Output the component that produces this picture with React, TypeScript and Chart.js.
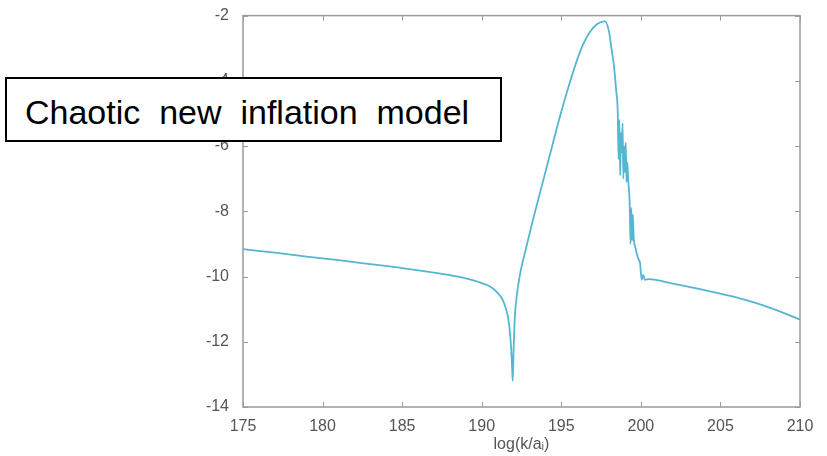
import React, { useEffect, useRef } from "react";
import { Chart, registerables } from "chart.js";

Chart.register(...registerables);

// log(k/a_i) values
const xValues: number[] = [
  175, 177, 179, 181, 183, 185, 187, 188, 189, 190, 190.5, 191.0, 191.3, 191.5, 191.65, 191.75, 191.85, 191.92, 191.95,
  192.0, 192.05, 192.1, 192.2, 192.4, 192.8, 193.2, 193.6, 194.0, 194.4, 194.8, 195.2, 195.6, 196.0, 196.4, 196.8, 197.2,
  197.5, 197.75, 198.0, 198.15, 198.3, 198.45, 198.55, 198.6, 198.65, 198.7, 198.75, 198.8, 198.85, 198.9, 198.95, 199.0,
  199.05, 199.1, 199.15, 199.2, 199.3, 199.35, 199.4, 199.45, 199.5, 199.55, 199.65, 199.8, 199.95, 200.05, 200.15, 200.25,
  200.5, 202, 204, 206, 207, 208, 209, 210,
];
// spectrum values
const yValues: number[] = [
  -9.16, -9.27, -9.39, -9.5, -9.62, -9.74, -9.88, -9.96, -10.06, -10.2, -10.3, -10.5, -10.7, -10.95, -11.24, -11.6, -12.2, -12.9, -13.2,
  -12.3, -11.6, -11.1, -10.6, -9.95, -9.1, -8.3, -7.55, -6.8, -6.05, -5.3, -4.6, -3.95, -3.35, -2.85, -2.5, -2.28,
  -2.2, -2.18, -2.5, -3.0, -3.5, -4.3, -5.0, -6.4, -5.2, -6.9, -5.6, -6.2, -5.3, -7.0, -6.0, -6.8,
  -5.9, -7.1, -6.5, -7.0, -7.8, -9.0, -7.9, -8.9, -8.1, -8.8, -9.1, -9.4, -9.6, -10.1, -9.95, -10.1,
  -10.08, -10.22, -10.42, -10.64, -10.78, -10.94, -11.12, -11.32,
];

const xTicks = { min: 175, max: 210, step: 5 };
const yTicks = { min: -14, max: -2, step: 2 };
const xTitle = "log(k/aᵢ)";
const boxText = "Chaotic  new  inflation  model";

const tickFont = "'Liberation Sans', Arial, sans-serif";

const framePlugin = {
  id: "matlabFrame",
  afterDraw(chart: any) {
    const { ctx, chartArea, scales } = chart;
    const { left, right, top, bottom } = chartArea;
    ctx.save();
    ctx.strokeStyle = "#9a9a9a";
    ctx.lineWidth = 1.5;
    ctx.strokeRect(left, top, right - left, bottom - top);
    ctx.lineWidth = 1;
    const tl = 5;
    scales.x.ticks.forEach((t: any) => {
      const px = Math.round(scales.x.getPixelForValue(t.value)) + 0.5;
      ctx.beginPath();
      ctx.moveTo(px, bottom);
      ctx.lineTo(px, bottom - tl);
      ctx.moveTo(px, top);
      ctx.lineTo(px, top + tl);
      ctx.stroke();
    });
    scales.y.ticks.forEach((t: any) => {
      const py = Math.round(scales.y.getPixelForValue(t.value)) + 0.5;
      ctx.beginPath();
      ctx.moveTo(left, py);
      ctx.lineTo(left + tl, py);
      ctx.moveTo(right, py);
      ctx.lineTo(right - tl, py);
      ctx.stroke();
    });
    ctx.restore();
  },
};

export default function App() {
  const canvasRef = useRef<HTMLCanvasElement | null>(null);

  useEffect(() => {
    if (!canvasRef.current) return;
    const data = xValues.map((x, i) => ({ x, y: yValues[i] }));
    const chart = new Chart(canvasRef.current, {
      type: "line",
      data: {
        datasets: [
          {
            data,
            borderColor: "#55b6cf",
            borderWidth: 1.8,
            pointRadius: 0,
            cubicInterpolationMode: "monotone",
            fill: false,
          },
        ],
      },
      plugins: [framePlugin],
      options: {
        animation: false,
        responsive: true,
        maintainAspectRatio: false,
        layout: { padding: { left: 0, right: 27, top: 15, bottom: 0 } },
        plugins: { legend: { display: false }, tooltip: { enabled: false } },
        scales: {
          x: {
            type: "linear",
            min: xTicks.min,
            max: xTicks.max,
            grid: { display: false },
            border: { display: false },
            ticks: {
              stepSize: xTicks.step,
              padding: 2,
              color: "#555",
              font: { family: tickFont, size: 16 },
              maxRotation: 0,
            },
            title: {
              display: true,
              text: xTitle,
              color: "#555",
              font: { family: tickFont, size: 16 },
              padding: { top: 0, bottom: 2 },
            },
            afterFit: (s: any) => {
              s.height = 49;
            },
          },
          y: {
            type: "linear",
            min: yTicks.min,
            max: yTicks.max,
            grid: { display: false },
            border: { display: false },
            ticks: {
              stepSize: yTicks.step,
              padding: 6,
              color: "#555",
              font: { family: tickFont, size: 16 },
            },
            afterFit: (s: any) => {
              s.width = 243;
            },
          },
        },
      },
    });
    return () => chart.destroy();
  }, []);

  return (
    <div style={{ position: "fixed", left: 0, top: 0, width: 827, height: 456, background: "#fff" }}>
      <canvas ref={canvasRef} />
      <div
        style={{
          position: "absolute",
          left: 5,
          top: 77,
          width: 497,
          height: 65,
          boxSizing: "border-box",
          border: "2px solid #000",
          background: "#fff",
        }}
      />
      <span
        style={{
          position: "absolute",
          left: 25,
          top: 95,
          fontFamily: "'Liberation Sans', Arial, sans-serif",
          fontSize: 34,
          lineHeight: "34px",
          whiteSpace: "pre",
          color: "#000",
        }}
      >
        {boxText}
      </span>
    </div>
  );
}
